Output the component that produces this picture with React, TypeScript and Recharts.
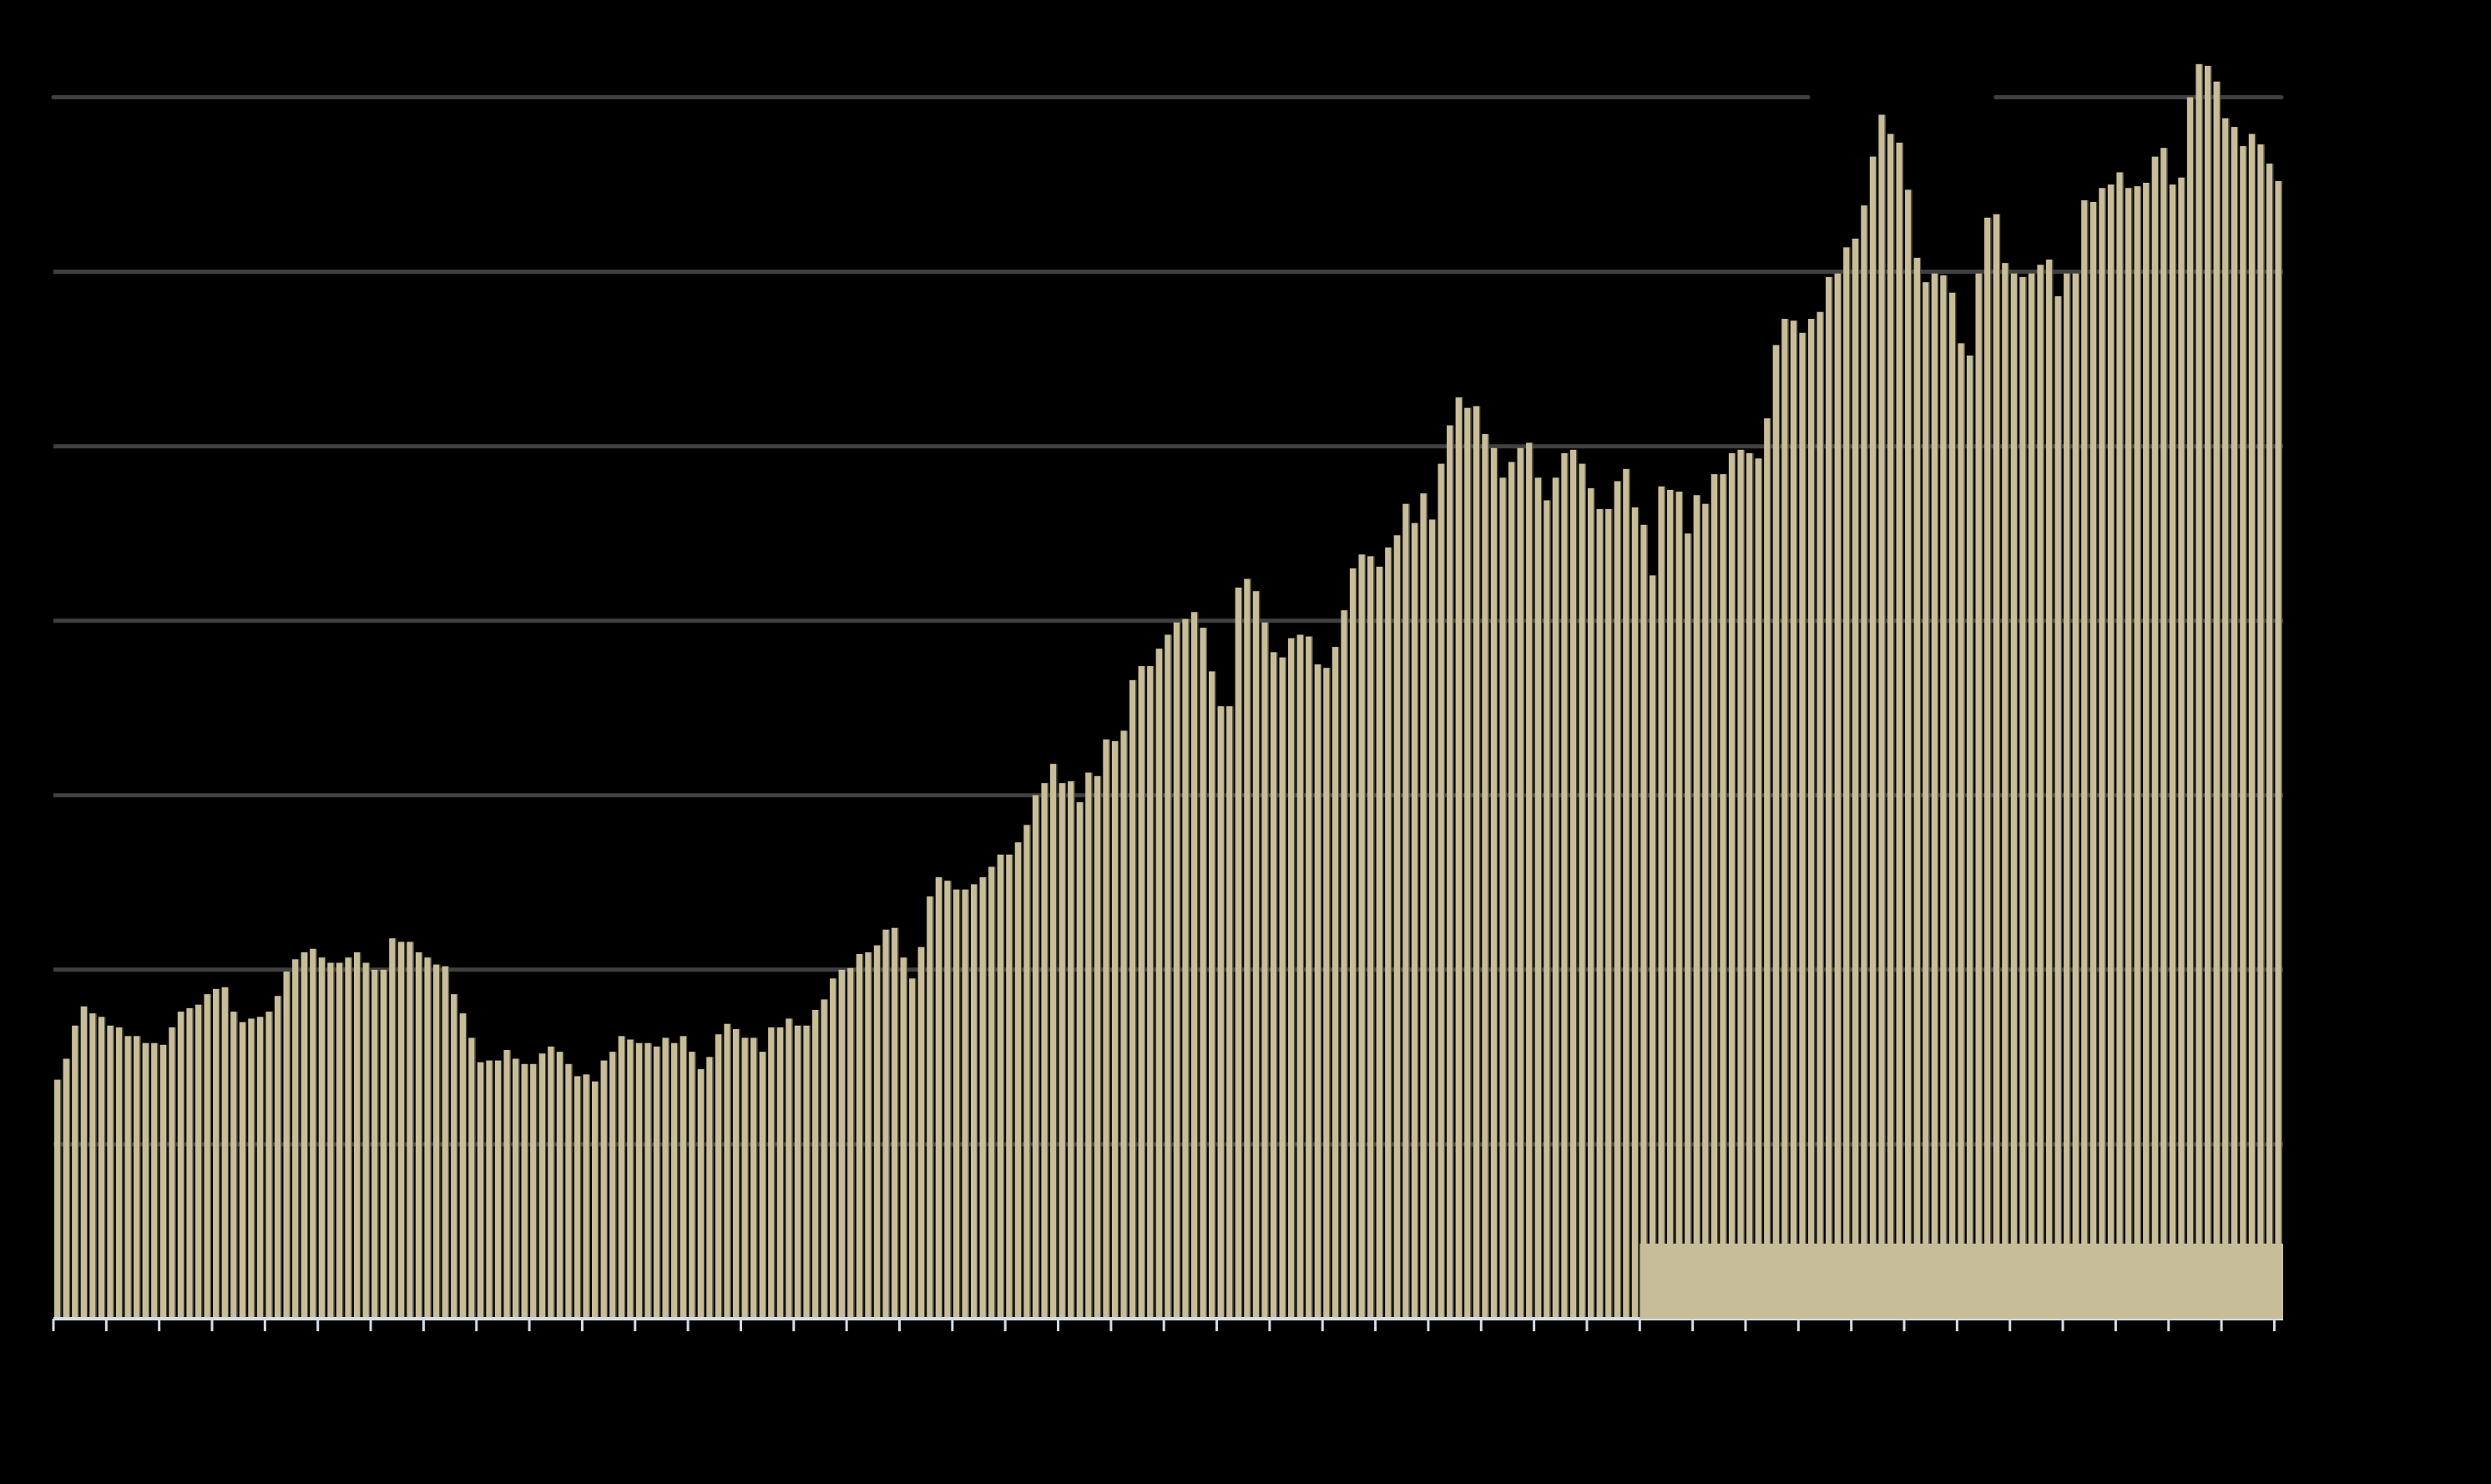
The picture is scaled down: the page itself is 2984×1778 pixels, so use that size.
import { BarChart, Bar, XAxis, YAxis, ReferenceLine, ReferenceArea } from 'recharts'

const W = 2984
const H = 1778
const LEFT = 64
const RIGHT = 249

const BAR = '#c8bd99'
const EDGE = '#5a5641'
const GRID = '#404040'
const AXIS = '#d5dce6'

// one bar per period, in grid units (gridlines at 1..7)
const era1 = [
  1.37, 1.49, 1.68, 1.79, 1.75, 1.73, 1.68, 1.67, 1.62, 1.62, 1.58, 1.58,
  1.57, 1.67, 1.76, 1.78, 1.80, 1.86, 1.89, 1.90, 1.76, 1.70, 1.72, 1.73,
  1.76, 1.85, 1.99, 2.06, 2.10, 2.12, 2.07, 2.04, 2.04, 2.07, 2.10, 2.04,
  2.00, 2.00, 2.18, 2.16, 2.16, 2.10, 2.07, 2.03, 2.02, 1.86, 1.75, 1.61,
]
const era2 = [
  1.47, 1.48, 1.48, 1.54, 1.49, 1.46, 1.46, 1.52, 1.56, 1.53, 1.46, 1.39,
  1.40, 1.36, 1.48, 1.53, 1.62, 1.60, 1.58, 1.58, 1.56, 1.61, 1.58, 1.62,
  1.53, 1.43, 1.50, 1.63, 1.69, 1.66, 1.61, 1.61, 1.53, 1.67, 1.67, 1.72,
  1.68, 1.68, 1.77, 1.83, 1.95, 2.00, 2.01, 2.09, 2.10, 2.14, 2.23, 2.24,
]
const era3 = [
  2.07, 1.95, 2.13, 2.42, 2.53, 2.51, 2.46, 2.46, 2.49, 2.53, 2.59, 2.66,
  2.66, 2.73, 2.83, 3.00, 3.07, 3.18, 3.07, 3.08, 2.96, 3.13, 3.11, 3.32,
  3.31, 3.37, 3.66, 3.74, 3.74, 3.84, 3.92, 3.99, 4.01, 4.05, 3.96, 3.71,
  3.51, 3.51, 4.19, 4.24, 4.17, 3.99, 3.82, 3.79, 3.90, 3.92, 3.91, 3.75,
]
const era4 = [
  3.73, 3.85, 4.06, 4.30, 4.38, 4.37, 4.31, 4.42, 4.49, 4.67, 4.56, 4.73,
  4.58, 4.90, 5.12, 5.28, 5.22, 5.23, 5.07, 4.99, 4.82, 4.91, 4.99, 5.02,
  4.82, 4.69, 4.82, 4.96, 4.98, 4.90, 4.76, 4.64, 4.64, 4.80, 4.87, 4.65,
  4.55, 4.26, 4.77, 4.75, 4.74, 4.50, 4.72, 4.67, 4.84, 4.84, 4.96, 4.98,
]
const era5 = [
  4.96, 4.93, 5.16, 5.58, 5.73, 5.72, 5.65, 5.73, 5.77, 5.97, 5.99, 6.14,
  6.19, 6.38, 6.66, 6.90, 6.79, 6.74, 6.47, 6.08, 5.94, 5.99, 5.98, 5.88,
  5.59, 5.52, 5.99, 6.31, 6.33, 6.05, 5.99, 5.97, 5.99, 6.04, 6.07, 5.86,
  5.99, 5.99, 6.41, 6.40, 6.48, 6.50, 6.57, 6.48, 6.49, 6.51, 6.66, 6.71,
]
const era6 = [
  6.50, 6.54, 7.00, 7.19, 7.18, 7.09, 6.88, 6.83, 6.72, 6.79, 6.73, 6.62,
  6.52,
]

const values = [...era1, ...era2, ...era3, ...era4, ...era5, ...era6]

const gridLevels = [1, 2, 3, 4, 5, 6]
const topLevel = 7
const topGap = [199.1, 220.4]
const tickMarks = [
  0, 6, 12, 18, 24, 30, 36, 42, 48, 54, 60, 66, 72, 78, 84, 90, 96, 102, 108,
  114, 120, 126, 132, 138, 144, 150, 156, 162, 168, 174, 180, 186, 192, 198,
  204, 210, 216, 222, 228, 234, 240, 246, 252,
]
const shadeFrom = 180
const shadeHeight = 0.43

const rows = values.map((v, i) => ({ i, v }))
const count = values.length
// the boundary axis runs 0..count-1; the last band is left as right padding
const band = (W - LEFT - RIGHT) / count

function BarShape(props: any) {
  const { x, y, width, height } = props
  if (!height || height <= 0) return null
  const edge = 1.2
  return (
    <g>
      <rect x={x} y={y} width={width - edge} height={height} fill={BAR} />
      <rect x={x + width - edge} y={y} width={edge} height={height} fill={EDGE} />
    </g>
  )
}

const gridProps: any = { stroke: GRID, strokeWidth: 5, zIndex: -100, ifOverflow: 'visible' }

export default function App() {
  return (
    <div style={{ position: 'absolute', left: 0, top: 0, width: W, height: H, background: '#000' }}>
      <BarChart
        width={W}
        height={H}
        data={rows}
        margin={{ top: 12, right: RIGHT, bottom: 168, left: LEFT }}
        barCategoryGap={0}
        barGap={0}
      >
        <XAxis dataKey="i" orientation="top" hide />
        <XAxis
          xAxisId="t"
          type="number"
          domain={[0, count - 1]}
          padding={{ left: 0, right: band }}
          ticks={tickMarks}
          tickFormatter={() => ''}
          tickSize={15}
          height={30}
          allowDataOverflow
          axisLine={{ stroke: AXIS, strokeWidth: 4 }}
          tickLine={{ stroke: AXIS, strokeWidth: 3 }}
        />
        <YAxis hide domain={[0, 7.5]} allowDataOverflow />
        {gridLevels.map((v) => (
          <ReferenceLine key={v} xAxisId="t" y={v} {...gridProps} />
        ))}
        <ReferenceLine
          key="top-left"
          xAxisId="t"
          segment={[{ x: 0, y: topLevel }, { x: topGap[0], y: topLevel }]}
          strokeLinecap="round"
          {...gridProps}
        />
        <ReferenceLine
          key="top-right"
          xAxisId="t"
          segment={[{ x: topGap[1], y: topLevel }, { x: count - 0.2, y: topLevel }]}
          strokeLinecap="round"
          {...gridProps}
        />
        <Bar dataKey="v" barSize={8.6} shape={BarShape} isAnimationActive={false} />
        <ReferenceArea
          xAxisId="t"
          x1={shadeFrom}
          x2={count}
          y1={0}
          y2={shadeHeight}
          fill={BAR}
          fillOpacity={1}
          stroke="none"
          ifOverflow="visible"
          {...({ zIndex: 1000 } as any)}
        />
      </BarChart>
    </div>
  )
}
